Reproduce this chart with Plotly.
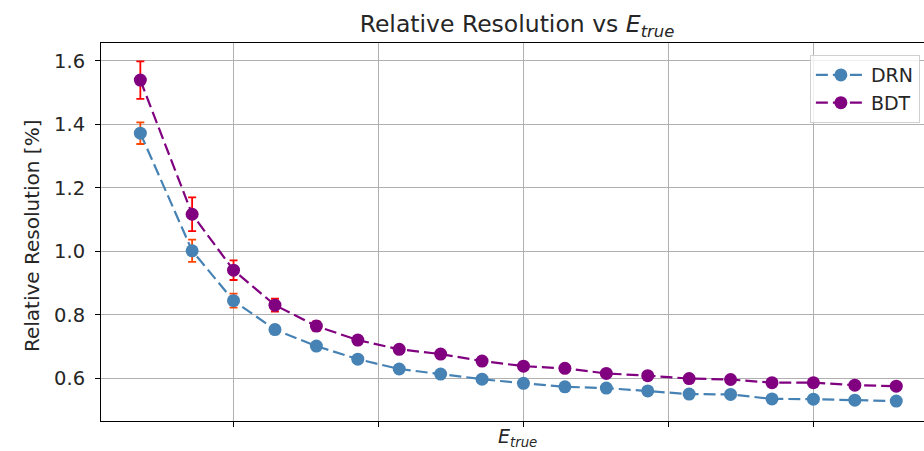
import plotly.graph_objects as go

# Energy bin centres (arbitrary units, x tick labels are hidden)
e_true = [25, 50, 70, 90, 110, 130, 150, 170, 190, 210, 230, 250, 270, 290, 310, 330, 350, 370, 390]

# Relative resolution per bin and its uncertainty
drn_res = [1.372, 1.002, 0.845, 0.754, 0.702, 0.661, 0.630, 0.614, 0.598, 0.585,
           0.574, 0.570, 0.561, 0.551, 0.550, 0.536, 0.535, 0.532, 0.529]
drn_err = [0.034, 0.035, 0.022, 0.013, 0.010, 0.008, 0.007, 0.006, 0.005, 0.005,
           0.005, 0.004, 0.004, 0.004, 0.004, 0.004, 0.004, 0.004, 0.004]

bdt_res = [1.539, 1.117, 0.941, 0.831, 0.765, 0.721, 0.692, 0.677, 0.655, 0.639,
           0.632, 0.616, 0.609, 0.600, 0.597, 0.587, 0.587, 0.579, 0.576]
bdt_err = [0.059, 0.053, 0.031, 0.020, 0.015, 0.012, 0.010, 0.009, 0.008, 0.007,
           0.007, 0.006, 0.006, 0.005, 0.005, 0.005, 0.005, 0.005, 0.005]

FONT = "DejaVu Sans"
TXT = "#262626"

fig = go.Figure()
fig.add_trace(go.Scatter(
    x=e_true, y=drn_res, name="DRN", mode="lines+markers",
    line=dict(color="#4682B4", width=2.2, dash="12px,5px"),
    marker=dict(color="#4682B4", size=13),
    error_y=dict(type="data", array=drn_err, visible=True,
                 color="#FF4500", thickness=1.8, width=4),
))
fig.add_trace(go.Scatter(
    x=e_true, y=bdt_res, name="BDT", mode="lines+markers",
    line=dict(color="#800080", width=2.2, dash="12px,5px"),
    marker=dict(color="#800080", size=13),
    error_y=dict(type="data", array=bdt_err, visible=True,
                 color="#FF0000", thickness=1.8, width=4),
))

fig.update_layout(
    width=924, height=451,
    margin=dict(l=101, r=0, t=43, b=30),
    paper_bgcolor="white", plot_bgcolor="white",
    font=dict(family=FONT, color=TXT, size=19.5),
    showlegend=True,
    legend=dict(
        x=0.995, xanchor="right", y=0.968, yanchor="top",
        bgcolor="rgba(255,255,255,0.8)", bordercolor="#d0d0d0", borderwidth=1,
        font=dict(family=FONT, size=19, color=TXT),
        itemwidth=50, tracegroupgap=0,
    ),
    title=dict(
        text="Relative Resolution vs <i>E</i><sub><i>true</i></sub>",
        font=dict(family=FONT, size=23.5, color=TXT),
        xref="container", x=517 / 924, xanchor="center",
        yref="container", y=1 - 24 / 451, yanchor="middle",
    ),
)

fig.update_xaxes(
    range=[6.0, 403.4], tick0=0, dtick=70,
    showticklabels=False, ticks="outside", ticklen=5, tickwidth=1.1, tickcolor="black",
    showgrid=True, gridcolor="#b0b0b0", gridwidth=1.1,
    showline=True, linecolor="black", linewidth=1.1, mirror=True,
    zeroline=False,
)
fig.update_yaxes(
    range=[0.4664, 1.6558], tick0=0, dtick=0.2, tickformat=".1f",
    ticks="outside", ticklen=5, tickwidth=1.1, tickcolor="black",
    ticklabelstandoff=6,
    tickfont=dict(family=FONT, size=19.5, color=TXT),
    showgrid=True, gridcolor="#b0b0b0", gridwidth=1.1,
    showline=True, linecolor="black", linewidth=1.1, mirror=False,
    zeroline=False,
)

# Axis titles
fig.add_annotation(
    text="<i>E</i><sub><i>true</i></sub>", xref="paper", yref="paper",
    x=(517 - 101) / 823, y=(421 - 438) / 378, xanchor="center", yanchor="middle",
    showarrow=False, font=dict(family=FONT, size=19, color=TXT),
)
fig.add_annotation(
    text="Relative Resolution [%]", xref="paper", yref="paper",
    x=(32 - 101) / 823, y=(421 - 236) / 378, xanchor="center", yanchor="middle",
    textangle=-90, showarrow=False, font=dict(family=FONT, size=20, color=TXT),
)

fig.write_html("out.html")
